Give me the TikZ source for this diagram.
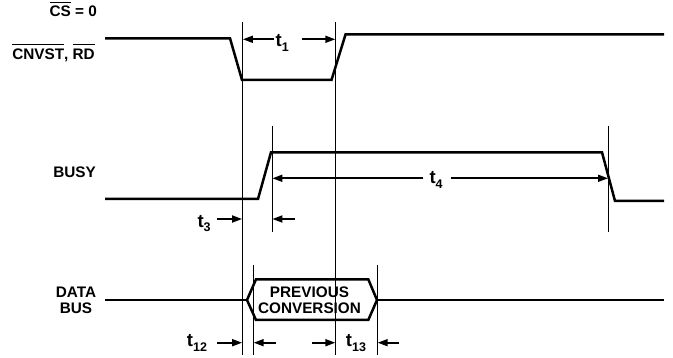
\documentclass[tikz,border=0pt]{standalone}
\usepackage{fontspec}
\setmainfont{Liberation Sans}
\usetikzlibrary{arrows.meta}
\newcommand{\obar}[1]{\leavevmode\vbox{\hrule height 1.1pt\kern 3.6pt\hbox{#1}}}
\newcommand{\tsub}[1]{{\fontsize{18.5}{18.5}\selectfont t}\raisebox{-4.5pt}{\fontsize{12.5}{12.5}\selectfont #1}}
\begin{document}
\begin{tikzpicture}[x=1pt,y=-1pt,
  sig/.style={line width=2.5pt, line join=miter},
  guide/.style={line width=0.9pt},
  dimarrow/.style={line width=1.7pt,-{Triangle[length=10pt,width=7pt]}},
  lbl/.style={font=\bfseries\fontsize{15.3}{16}\selectfont, inner sep=0pt},
  tl/.style={font=\bfseries, inner sep=0pt, anchor=base west}]
\useasboundingbox (0,0) rectangle (673,358);

% signal labels
\node[lbl, anchor=base east] (cs) at (97,17) {\obar{CS} = 0};
\node[lbl, anchor=base east] (cnv) at (95,59.3) {\obar{CNVST}, \obar{RD}};
\node[lbl, anchor=base east] (busy) at (96,177.3) {BUSY};
\node[lbl, align=center] (data) at (76,300) {DATA\\BUS};

% CNVST waveform
\coordinate (c0) at (105,38.3);
\coordinate (c1) at (230,38.3);
\coordinate (c2) at (242,80);
\coordinate (c3) at (331.5,80);
\coordinate (c4) at (345.5,34.5);
\coordinate (c5) at (664,34.5);
\draw[sig] (c0) -- (c1) -- (c2) -- (c3) -- (c4) -- (c5);

% BUSY waveform
\coordinate (b0) at (105,199);
\coordinate (b1) at (258,199);
\coordinate (b2) at (271,152.3);
\coordinate (b3) at (602,152.3);
\coordinate (b4) at (615,201);
\coordinate (b5) at (664,201);
\draw[sig] (b0) -- (b1) -- (b2) -- (b3) -- (b4) -- (b5);

% DATA BUS
\coordinate (d0) at (105,300);
\coordinate (h1) at (247,300);
\coordinate (h2) at (256,279.3);
\coordinate (h3) at (368.3,279.3);
\coordinate (h4) at (377,300);
\coordinate (h5) at (368.3,320);
\coordinate (h6) at (256,320);
\coordinate (d3) at (664,300);
\draw[sig] (d0) -- (h1);
\draw[sig] (h1) -- (h2) -- (h3) -- (h4) -- (h5) -- (h6) -- cycle;
\draw[sig] (h4) -- (d3);
\node[lbl, align=center] (prev) at (309.5,300) {PREVIOUS\\CONVERSION};

% guide lines
\coordinate (v1t) at (242.5,22);  \coordinate (v1b) at (242.5,355);
\coordinate (v2t) at (335.7,22);  \coordinate (v2b) at (335.7,355);
\coordinate (v3t) at (272,125.7); \coordinate (v3b) at (272,232);
\coordinate (v4t) at (608.3,125.7); \coordinate (v4b) at (608.3,232);
\coordinate (v5t) at (253.3,265); \coordinate (v5b) at (253.3,355);
\coordinate (v6t) at (377.3,265); \coordinate (v6b) at (377.3,355);
\foreach \v in {1,...,6} \draw[guide] (v\v t) -- (v\v b);

% t1
\node[tl] (t1) at (275.5,46.7) {\tsub{1}};
\coordinate (t1a) at (274,39.3);  \coordinate (t1b) at (242.9,39.3);
\coordinate (t1c) at (301.7,39.3); \coordinate (t1d) at (335.3,39.3);
\draw[dimarrow] (t1a) -- (t1b);
\draw[dimarrow] (t1c) -- (t1d);

% t4
\node[tl] (t4) at (429.3,184) {\tsub{4}};
\coordinate (t4a) at (423.3,178.3); \coordinate (t4b) at (272.4,178.3);
\coordinate (t4c) at (450.7,178.3); \coordinate (t4d) at (608,178.3);
\draw[dimarrow] (t4a) -- (t4b);
\draw[dimarrow] (t4c) -- (t4d);

% t3
\node[tl] (t3) at (197.3,227.3) {\tsub{3}};
\coordinate (t3a) at (216.7,219); \coordinate (t3b) at (242.1,219);
\coordinate (t3c) at (295,219);   \coordinate (t3d) at (272.4,219);
\draw[dimarrow] (t3a) -- (t3b);
\draw[dimarrow] (t3c) -- (t3d);

% t12
\node[tl] (t12) at (186.7,346.7) {\tsub{12}};
\coordinate (t12a) at (217,342.7); \coordinate (t12b) at (242.1,342.7);
\coordinate (t12c) at (275.7,342.7); \coordinate (t12d) at (253.7,342.7);
\draw[dimarrow] (t12a) -- (t12b);
\draw[dimarrow] (t12c) -- (t12d);

% t13
\node[tl] (t13) at (345.7,346.7) {\tsub{13}};
\coordinate (t13a) at (312.3,342.7); \coordinate (t13b) at (335.3,342.7);
\coordinate (t13c) at (399.3,342.7); \coordinate (t13d) at (377.7,342.7);
\draw[dimarrow] (t13a) -- (t13b);
\draw[dimarrow] (t13c) -- (t13d);
\end{tikzpicture}
\end{document}
